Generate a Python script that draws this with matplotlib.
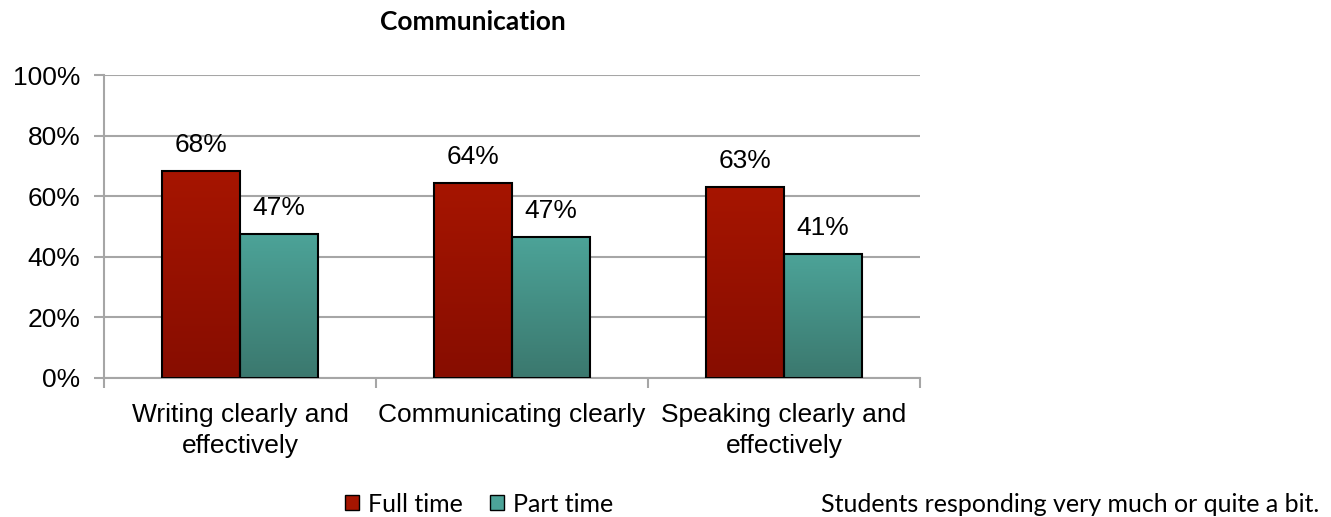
import numpy as np
import matplotlib.pyplot as plt
from matplotlib.patches import Patch

categories = ["Writing clearly and\neffectively", "Communicating clearly", "Speaking clearly and\neffectively"]
full_time = [68.3, 64.4, 63.0]
part_time = [47.5, 46.5, 40.9]
full_labels = ["68%", "64%", "63%"]
part_labels = ["47%", "47%", "41%"]

red_top, red_bot = "#a61500", "#870d00"
teal_top, teal_bot = "#4ca398", "#3b786e"
grid_col = "#a6a6a6"


def gradient_bars(ax, bars, top, bot):
    cmap = plt.matplotlib.colors.LinearSegmentedColormap.from_list("g", [bot, top])
    grad = np.linspace(0, 1, 256).reshape(-1, 1)
    for b in bars:
        x0, y0 = b.get_x(), b.get_y()
        w, h = b.get_width(), b.get_height()
        im = ax.imshow(grad, cmap=cmap, aspect="auto", origin="lower",
                       extent=[x0, x0 + w, y0, y0 + h], zorder=2)
        im.set_clip_path(b)
        b.set_facecolor("none")


fig = plt.figure(figsize=(13.31, 5.17), dpi=100)
ax = fig.add_axes([0.0781, 0.2689, 0.6131, 0.586])

x = np.arange(len(categories)) + 0.5
w = 0.287
b1 = ax.bar(x - w / 2, full_time, w, edgecolor="black", linewidth=1.5, zorder=3)
b2 = ax.bar(x + w / 2, part_time, w, edgecolor="black", linewidth=1.5, zorder=3)
gradient_bars(ax, b1, red_top, red_bot)
gradient_bars(ax, b2, teal_top, teal_bot)

fs = 19
for xi, v, s in zip(x - w / 2, full_time, full_labels):
    ax.text(xi, v + 4.5, s, ha="center", va="bottom", fontsize=fs, family="Liberation Sans")
for xi, v, s in zip(x + w / 2, part_time, part_labels):
    ax.text(xi, v + 4.5, s, ha="center", va="bottom", fontsize=fs, family="Liberation Sans")

ax.set_xlim(0, 3)
ax.set_ylim(0, 100)
ax.set_yticks(range(0, 101, 20))
ax.set_yticklabels([f"{t}%" for t in range(0, 101, 20)], family="Liberation Sans", fontsize=fs)
ax.yaxis.grid(True, color=grid_col, linewidth=1.5, zorder=0)
ax.set_axisbelow(True)

ax.set_xticks(x)
ax.set_xticklabels(categories, family="Liberation Sans", fontsize=fs, linespacing=1.35)
ax.tick_params(axis="x", which="major", length=0, pad=18)
ax.set_xticks([0, 1, 2, 3], minor=True)
ax.tick_params(axis="x", which="minor", length=7, width=1.5, color=grid_col, direction="out")
ax.tick_params(axis="y", length=7, width=1.5, color=grid_col, pad=10)

for s in ["top", "right"]:
    ax.spines[s].set_visible(False)
for s in ["left", "bottom"]:
    ax.spines[s].set_color(grid_col)
    ax.spines[s].set_linewidth(1.5)

fig.text(0.355, 0.958, "Communication", ha="center", va="center", fontsize=19,
         fontweight="bold", family="Lato")

handles = [Patch(facecolor=red_top, edgecolor="black"), Patch(facecolor=teal_top, edgecolor="black")]
fig.legend(handles, ["Full time", "Part time"], loc="center", bbox_to_anchor=(0.36, 0.025),
           ncol=2, frameon=False, prop={"family": "Lato", "size": 18},
           handlelength=0.55, handleheight=0.55, handletextpad=0.35, columnspacing=1.1)

fig.text(0.991, 0.025, "Students responding very much or quite a bit.", ha="right", va="center",
         fontsize=18, family="Lato")

fig.savefig("out.png", dpi=100)
